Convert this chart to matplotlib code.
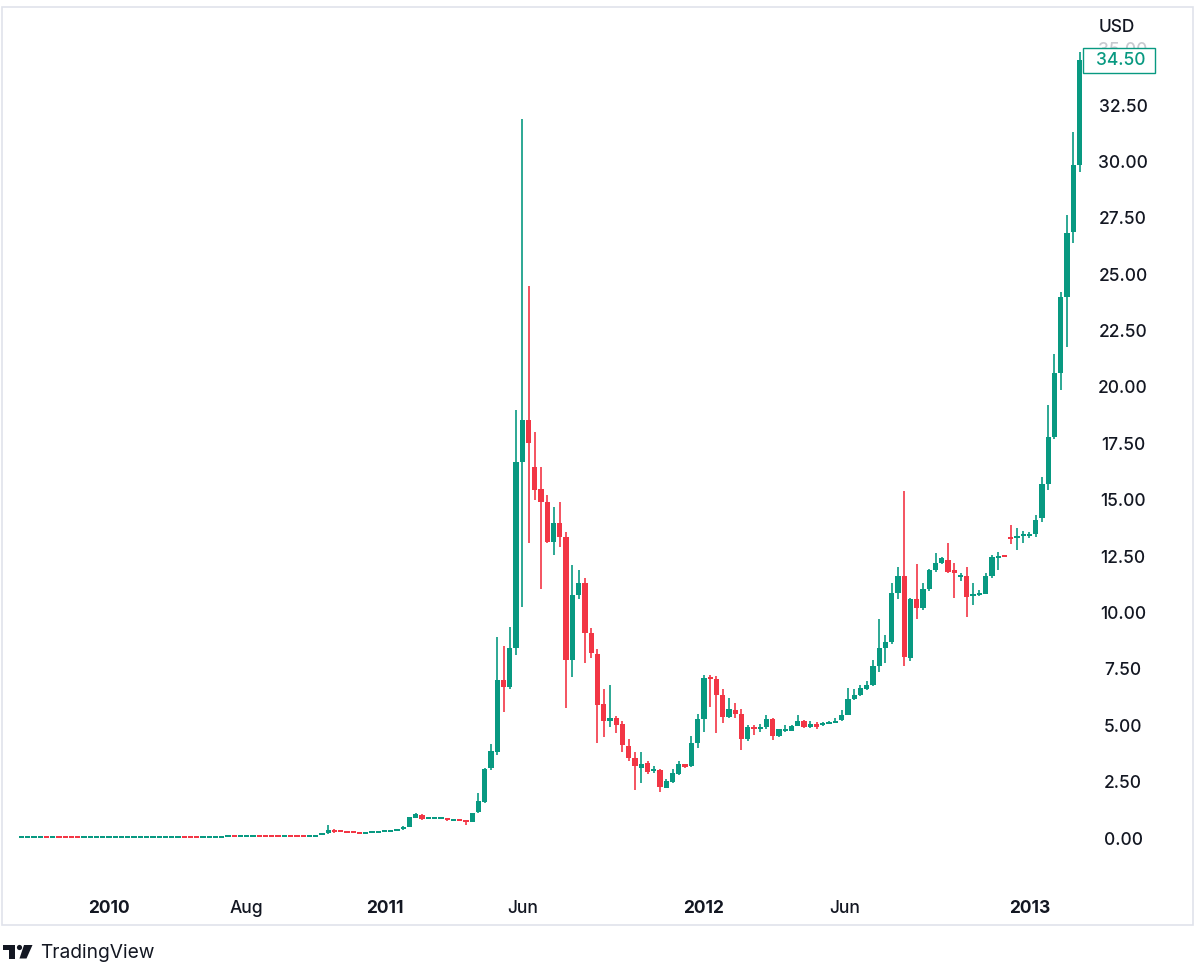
import matplotlib
matplotlib.use('Agg')
import matplotlib.pyplot as plt
import matplotlib.transforms as mtransforms
from matplotlib.patches import Rectangle, Circle, Polygon, FancyBboxPatch
import numpy as np

plt.rcParams['font.family'] = ['Inter', 'DejaVu Sans']

# ---------------- data (weekly OHLC, USD) ----------------
opens = [
    0.038, 0.040, 0.041, 0.042, 0.043, 0.041, 0.042, 0.040, 0.039, 0.038,
    0.037, 0.038, 0.039, 0.040, 0.041, 0.042, 0.043, 0.044, 0.045, 0.046,
    0.047, 0.048, 0.049, 0.050, 0.051, 0.052, 0.053, 0.051, 0.050, 0.049,
    0.050, 0.051, 0.052, 0.053, 0.090, 0.080, 0.085, 0.090, 0.095, 0.090,
    0.085, 0.080, 0.075, 0.080, 0.075, 0.070, 0.065, 0.100, 0.120, 0.200,
    0.340, 0.300, 0.290, 0.270, 0.250, 0.230, 0.250, 0.270, 0.290, 0.310,
    0.33, 0.38, 0.50, 0.90, 1.02, 0.86, 0.88, 0.86, 0.88, 0.80,
    0.82, 0.78, 0.72, 1.14, 1.61, 3.09, 3.83, 7.00, 6.68, 8.41,
    16.69, 18.54, 16.47, 15.46, 14.89, 13.14, 13.98, 13.36, 7.89, 10.78,
    11.32, 9.10, 8.16, 5.94, 5.20, 5.33, 5.04, 4.09, 3.56, 3.12,
    3.34, 2.98, 3.02, 2.23, 2.50, 2.84, 3.27, 3.19, 4.23, 5.26,
    7.10, 7.04, 6.34, 5.38, 5.68, 5.50, 4.38, 4.91, 4.82, 4.91,
    5.28, 4.52, 4.75, 4.76, 4.97, 5.20, 4.93, 5.04, 5.00, 5.07,
    5.13, 5.23, 5.47, 6.15, 6.34, 6.59, 6.80, 7.63, 8.41, 8.71,
    10.85, 11.62, 7.97, 10.58, 10.22, 11.03, 11.88, 12.18, 12.35, 11.88,
    11.59, 11.62, 10.73, 10.79, 10.82, 11.62, 12.45, 12.55, 13.36, 13.30,
    13.39, 13.40, 13.50, 14.18, 15.70, 17.80, 20.60, 23.98, 26.89, 29.85,
]
highs = [
    0.041, 0.042, 0.043, 0.044, 0.044, 0.043, 0.043, 0.041, 0.040, 0.039,
    0.039, 0.040, 0.041, 0.042, 0.043, 0.044, 0.045, 0.046, 0.047, 0.048,
    0.049, 0.050, 0.051, 0.052, 0.053, 0.054, 0.054, 0.052, 0.051, 0.051,
    0.052, 0.053, 0.054, 0.095, 0.100, 0.090, 0.095, 0.100, 0.100, 0.092,
    0.087, 0.082, 0.130, 0.082, 0.077, 0.072, 0.105, 0.130, 0.210, 0.560,
    0.420, 0.310, 0.300, 0.280, 0.260, 0.260, 0.280, 0.300, 0.320, 0.350,
    0.40, 0.52, 0.95, 1.13, 1.06, 0.93, 0.95, 0.92, 0.90, 0.85,
    0.84, 0.80, 1.12, 2.00, 3.10, 4.15, 8.93, 8.50, 9.34, 18.98,
    31.90, 24.48, 18.00, 16.47, 15.20, 14.69, 14.91, 13.58, 12.10, 11.88,
    11.52, 9.30, 8.40, 6.59, 6.78, 5.40, 5.20, 4.40, 3.80, 3.83,
    3.40, 3.20, 3.05, 2.60, 3.05, 3.40, 3.30, 4.52, 5.49, 7.23,
    7.23, 7.20, 6.60, 6.19, 6.00, 5.70, 5.00, 5.00, 5.05, 5.45,
    5.30, 4.85, 5.00, 5.00, 5.45, 5.25, 5.20, 5.15, 5.15, 5.20,
    5.30, 5.68, 6.64, 6.60, 6.80, 6.95, 7.89, 9.70, 9.00, 11.30,
    12.00, 15.40, 10.65, 12.15, 11.30, 11.95, 12.65, 12.45, 13.10, 12.20,
    11.75, 12.00, 11.30, 11.00, 11.75, 12.55, 12.70, 12.56, 13.90, 13.73,
    13.60, 13.55, 14.32, 16.00, 19.20, 21.46, 24.20, 27.63, 31.30, 34.87,
]
lows = [
    0.037, 0.039, 0.040, 0.041, 0.040, 0.040, 0.039, 0.038, 0.037, 0.036,
    0.036, 0.037, 0.038, 0.039, 0.040, 0.041, 0.042, 0.043, 0.044, 0.045,
    0.046, 0.047, 0.048, 0.049, 0.050, 0.051, 0.050, 0.049, 0.048, 0.048,
    0.049, 0.050, 0.051, 0.052, 0.070, 0.078, 0.083, 0.088, 0.088, 0.083,
    0.078, 0.073, 0.073, 0.073, 0.068, 0.063, 0.064, 0.098, 0.118, 0.195,
    0.220, 0.280, 0.260, 0.240, 0.220, 0.220, 0.245, 0.265, 0.285, 0.300,
    0.32, 0.37, 0.48, 0.88, 0.82, 0.84, 0.86, 0.84, 0.76, 0.78,
    0.76, 0.58, 0.70, 1.10, 1.55, 3.00, 3.70, 5.60, 6.60, 8.10,
    10.26, 13.07, 14.99, 11.05, 13.07, 12.55, 12.92, 5.75, 7.15, 10.60,
    7.75, 7.97, 4.20, 4.49, 4.94, 4.64, 3.83, 3.40, 2.13, 2.45,
    2.85, 2.90, 2.05, 2.20, 2.45, 2.80, 3.10, 3.15, 4.00, 4.71,
    5.82, 4.67, 5.08, 5.30, 5.30, 3.90, 4.30, 4.57, 4.70, 4.85,
    4.35, 4.50, 4.70, 4.75, 4.95, 4.88, 4.88, 4.85, 4.95, 5.05,
    5.10, 5.20, 5.45, 6.10, 6.30, 6.55, 6.75, 7.38, 7.78, 8.60,
    10.62, 7.63, 7.85, 9.70, 10.10, 10.95, 11.80, 12.15, 11.75, 10.65,
    11.40, 9.79, 10.33, 10.75, 10.80, 11.55, 11.88, 12.48, 13.04, 12.77,
    13.10, 13.30, 13.35, 14.00, 15.43, 17.70, 19.87, 21.79, 26.40, 29.55,
]
closes = [
    0.040, 0.041, 0.042, 0.043, 0.041, 0.042, 0.040, 0.039, 0.038, 0.037,
    0.038, 0.039, 0.040, 0.041, 0.042, 0.043, 0.044, 0.045, 0.046, 0.047,
    0.048, 0.049, 0.050, 0.051, 0.052, 0.053, 0.051, 0.050, 0.049, 0.050,
    0.051, 0.052, 0.053, 0.090, 0.080, 0.085, 0.090, 0.095, 0.090, 0.085,
    0.080, 0.075, 0.080, 0.075, 0.070, 0.065, 0.100, 0.120, 0.200, 0.340,
    0.300, 0.290, 0.270, 0.250, 0.230, 0.250, 0.270, 0.290, 0.310, 0.330,
    0.38, 0.50, 0.92, 1.06, 0.86, 0.90, 0.90, 0.88, 0.78, 0.82,
    0.78, 0.72, 1.10, 1.64, 3.05, 3.87, 7.00, 6.68, 8.44, 16.69,
    18.54, 17.50, 15.43, 14.91, 13.14, 13.98, 13.36, 7.89, 10.78, 11.32,
    9.10, 8.19, 5.90, 5.20, 5.33, 5.01, 4.12, 3.53, 3.19, 3.27,
    2.94, 3.02, 2.27, 2.53, 2.87, 3.27, 3.17, 4.23, 5.26, 7.11,
    7.05, 6.34, 5.38, 5.70, 5.50, 4.38, 4.91, 4.82, 4.91, 5.28,
    4.52, 4.82, 4.82, 4.97, 5.20, 4.91, 5.04, 4.91, 5.10, 5.13,
    5.20, 5.47, 6.15, 6.34, 6.64, 6.80, 7.63, 8.41, 8.71, 10.85,
    11.62, 8.01, 10.62, 10.22, 11.03, 11.88, 12.18, 12.40, 11.81, 11.77,
    11.64, 10.67, 10.82, 10.88, 11.62, 12.47, 12.50, 12.50, 13.29, 13.36,
    13.46, 13.46, 14.10, 15.70, 17.80, 20.60, 23.98, 26.82, 29.85, 34.50,
]

tick_positions = [14, 36, 58, 80, 109, 131.5, 161]
tick_labels = ['2010', 'Aug', '2011', 'Jun', '2012', 'Jun', '2013']
tick_is_year = [True, False, True, False, True, False, True]
price_ticks = [0.0, 2.5, 5.0, 7.5, 10.0, 12.5, 15.0, 17.5, 20.0, 22.5,
               25.0, 27.5, 30.0, 32.5, 35.0]
last_price = 34.50
currency = 'USD'

# ---------------- styling ----------------
GREEN = '#089981'
RED = '#F23645'
TXT = '#131722'
W, H = 1200, 966

fig = plt.figure(figsize=(W / 100, H / 100), dpi=100)
fig.patch.set_facecolor('white')


def px_rect(x0, y0, x1, y1):
    return [x0 / W, 1 - y1 / H, (x1 - x0) / W, (y1 - y0) / H]


ax = fig.add_axes(px_rect(5, 22, 1090, 885))
ax.set_facecolor('none')
ax.set_xlim(-2.62, 170.67)
ax.set_ylim(-2.084, 36.186)
for s in ax.spines.values():
    s.set_visible(False)

o = np.array(opens)
h = np.array(highs)
l = np.array(lows)
c = np.array(closes)
idx = np.arange(len(o))
up = c >= o
cols = np.where(up, GREEN, RED)

ax.vlines(idx, l, h, colors=cols, linewidth=1.2, zorder=2)
min_h = 0.09
lo = np.minimum(o, c)
hi = np.maximum(o, c)
mid = (lo + hi) / 2
small = (hi - lo) < min_h
bottom = np.where(small, mid - min_h / 2, lo)
height = np.where(small, min_h, hi - lo)
ax.bar(idx, height, bottom=bottom, width=0.84, color=cols, linewidth=0, zorder=3)

# x axis
ax.set_xticks(tick_positions)
ax.set_xticklabels(tick_labels)
ax.tick_params(axis='x', length=0, pad=11, labelsize=12.5, labelcolor=TXT)
for lbl, yr in zip(ax.get_xticklabels(), tick_is_year):
    lbl.set_fontweight('bold' if yr else 500)

# y axis
ax.yaxis.tick_right()
ax.set_yticks(price_ticks)
ax.set_yticklabels([f'{v:.2f}' for v in price_ticks])
ax.tick_params(axis='y', length=0, pad=23.8, labelsize=12.5, labelcolor=TXT)
ylabels = ax.get_yticklabels()
for lbl in ylabels:
    lbl.set_horizontalalignment('center')
    lbl.set_fontweight(500)
ylabels[-1].set_color('#c8cad0')

# last price label
blend = mtransforms.blended_transform_factory(fig.transFigure, ax.transData)
box_h = 25 / 22.55
box = FancyBboxPatch((1083 / W, last_price - box_h / 2), (1155 - 1083) / W, box_h,
                     boxstyle='square,pad=0', transform=blend,
                     fc='white', ec=GREEN, lw=1.0, zorder=5)
fig.add_artist(box)
fig.text(1121 / W, last_price, f'{last_price:.2f}', transform=blend,
         ha='center', va='center', fontsize=12.5, color=GREEN, zorder=6,
         fontweight=500)

fig.text(1117 / W, 1 - 28 / H, currency, ha='center', va='center',
         fontsize=12.5, color=TXT, fontweight=500)

# outer frame
fig.add_artist(Rectangle((2 / W, 1 - 925 / H), 1191 / W, 918 / H,
                         transform=fig.transFigure, fc='none', ec='#e0e3eb',
                         lw=1.2, zorder=0))

# TradingView logo + wordmark
pxT = mtransforms.Affine2D().scale(1 / W, -1 / H).translate(0, 1) + fig.transFigure
fig.add_artist(Rectangle((3, 945), 12, 5, transform=pxT, fc=TXT, ec='none'))
fig.add_artist(Rectangle((9, 945), 6, 13.5, transform=pxT, fc=TXT, ec='none'))
fig.add_artist(Circle((19.5, 947.5), 2.6, transform=pxT, fc=TXT, ec='none'))
fig.add_artist(Polygon([(24, 945), (32.5, 945), (26.5, 958.5), (19.5, 958.5)],
                       closed=True, transform=pxT, fc=TXT, ec='none'))
fig.text(40 / W, 1 - 953 / H, 'TradingView', ha='left', va='center',
         fontsize=13.8, color=TXT)

fig.savefig('out.png', dpi=100, facecolor='white')
